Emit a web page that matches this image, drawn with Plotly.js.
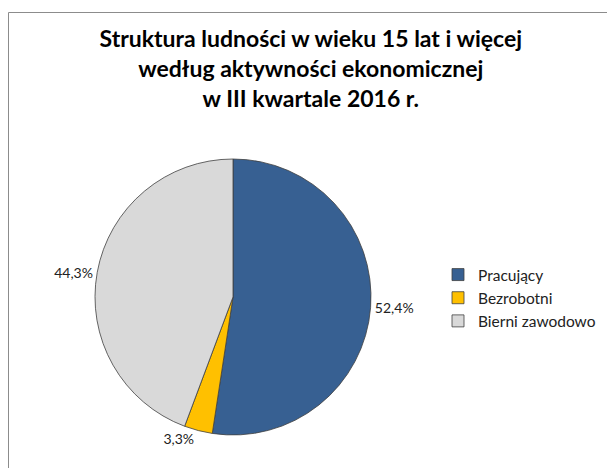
<!DOCTYPE html>
<html><head><meta charset="utf-8">
<script src="https://cdn.plot.ly/plotly-3.0.1.min.js"></script>
<style>html,body{margin:0;padding:0;background:#fff}#chart{width:607px;height:468px}</style>
</head><body><div id="chart"></div>
<script>
const categories = ["Pracujący", "Bezrobotni", "Bierni zawodowo"];
const values = [52.4, 3.3, 44.3];
const labelsText = ["52,4%", "3,3%", "44,3%"];
const colors = ["#376092", "#FFC000", "#D9D9D9"];

const trace = {
  type: "pie",
  labels: categories,
  values: values,
  text: labelsText,
  textinfo: "text",
  textposition: "outside",
  sort: false,
  direction: "clockwise",
  rotation: 0,
  marker: {colors: colors, line: {color: "#404040", width: 0.8}},
  outsidetextfont: {family: "Lato, sans-serif", size: 14, color: "#222"},
  domain: {x: [95/607, 371/607], y: [1-435/468, 1-159/468]},
  hoverinfo: "label+text"
};

const layout = {
  width: 607, height: 468,
  margin: {l: 0, r: 0, t: 0, b: 0},
  paper_bgcolor: "#fff",
  title: {
    text: "Struktura ludności w wieku 15 lat i więcej<br>według aktywności ekonomicznej<br>w III kwartale 2016 r.",
    font: {family: "Lato, sans-serif", size: 23, color: "#000", weight: "bold"},
    x: 0.512, xanchor: "center", y: 0.9, yanchor: "top"
  },
  showlegend: true,
  legend: {
    x: 0.7216, y: 1-298/468, xanchor: "left", yanchor: "middle",
    font: {family: "Lato, sans-serif", size: 15.5, color: "#222"},
    bgcolor: "rgba(0,0,0,0)", itemwidth: 30
  },
  shapes: [{
    type: "rect", xref: "paper", yref: "paper",
    x0: 8.5/607, x1: 1.01, y0: -0.01, y1: 1-12.5/468,
    line: {color: "#8c8c8c", width: 1}, fillcolor: "rgba(0,0,0,0)", layer: "below"
  }]
};

Plotly.newPlot("chart", [trace], layout, {displayModeBar: false, staticPlot: true});
</script></body></html>
